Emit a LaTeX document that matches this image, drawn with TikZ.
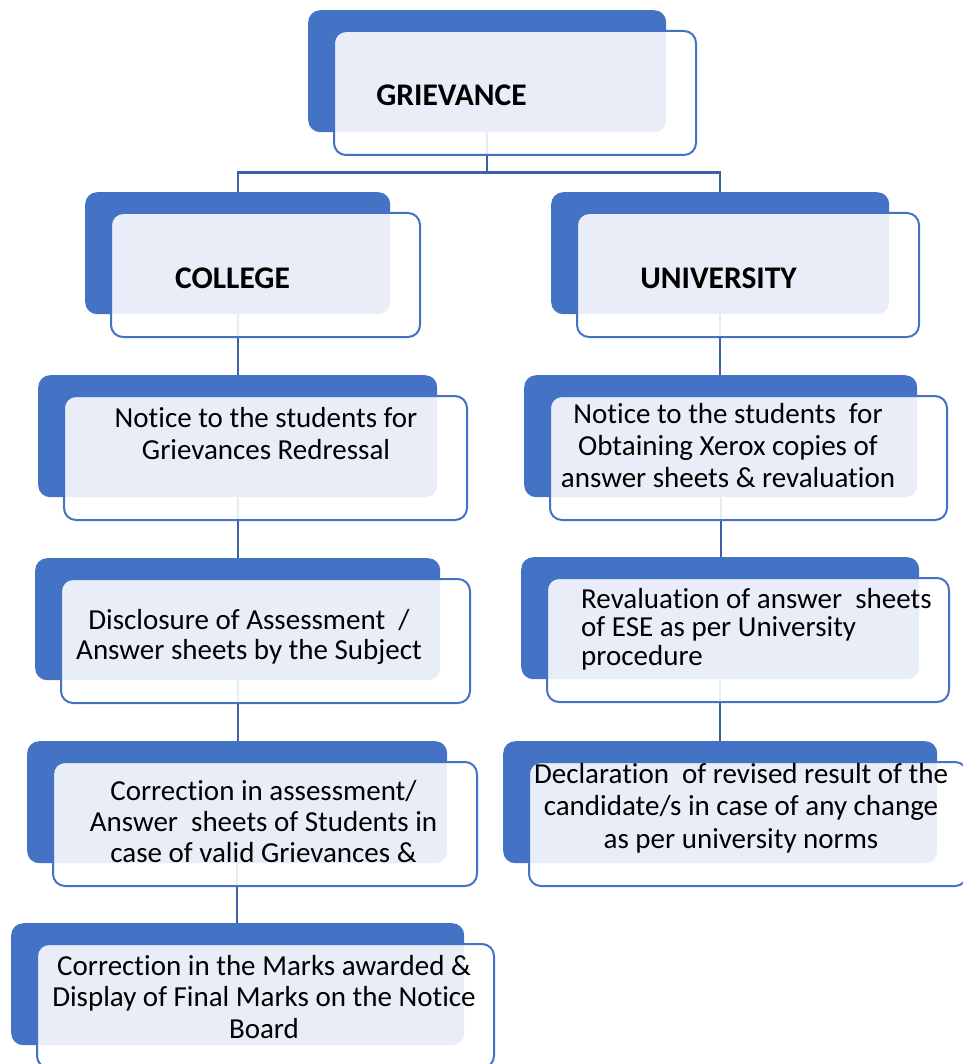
\documentclass[tikz,border=0pt]{standalone}
\usepackage{fontspec}
\setmainfont{Carlito}[Ligatures=NoCommon]
\usetikzlibrary{positioning}
\pgfdeclarelayer{background}
\pgfsetlayers{background,main}
\tikzstyle{chart} = [x = 1pt, y = -1pt]
\definecolor{boxBlue}{RGB}{68,114,196}
\definecolor{lineBlue}{RGB}{62,96,170}
\tikzstyle{backBoxStyle} = [fill=boxBlue, rounded corners = 12pt, minimum height = 122pt, anchor = north west, inner sep = 0pt]
\tikzstyle{frontBoxStyle} = [draw=boxBlue, line width = 2pt, fill=white, fill opacity=0.88, rounded corners = 12pt, minimum height = 124pt, anchor = north west, inner sep = 0pt]
\tikzstyle{linkLine} = [color=lineBlue, line width = 2.3pt]
\tikzstyle{stageText} = [font=\fontsize{29}{32}\selectfont, align=center, anchor=base, inner sep=0pt]
\tikzstyle{headText} = [font=\fontsize{31.5}{36}\selectfont\bfseries, anchor=base, inner sep=0pt]
\newcommand{\stageBox}[4]{
  \node [backBoxStyle, minimum width = #4pt] (#1Back) at (#2, #3) {};
  \node [frontBoxStyle, minimum width = #4pt + 4pt] (#1Front) at ([xshift = 25pt, yshift = -20pt] #1Back.north west) {};
}

\begin{document}
\begin{tikzpicture}[chart]
  \useasboundingbox (0,0) rectangle (962,1064);

  % boxes: name / left / top / width
  \foreach \name/\left/\top/\width in {griev/308/10/358, college/85/192/305, univ/551/192/338,
      noticeLeft/38/375/399, noticeRight/524/375/393, disclosure/35/558/405,
      revaluation/521/557/398, correction/27/741/420, declaration/503/741/434, final/11/923/453} {
    \stageBox{\name}{\left}{\top}{\width}
  }

  % connectors behind the boxes
  \begin{pgfonlayer}{background}
    \coordinate (bus) at ([yshift = -40pt] grievBack.south);
    \draw [linkLine] (grievBack.south) -- (bus);
    \draw [linkLine] (collegeBack.north) |- (bus) -| (univBack.north);
    \foreach \upper/\lower in {college/noticeLeft, noticeLeft/disclosure, disclosure/correction, correction/final,
        univ/noticeRight, noticeRight/revaluation, revaluation/declaration} {
      \draw [linkLine] (\upper Back.south) -- (\upper Back.south |- \lower Back.north);
    }
  \end{pgfonlayer}

  \node [headText] (grievText) at (451.5, 106) {GRIEVANCE};
  \node [headText] (collegeText) at (232.5, 288) {COLLEGE};
  \node [headText] (univText) at (718.5, 288) {UNIVERSITY};

  % base of a text node is the baseline of its last line
  \node [stageText] (noticeLeftText) at (266, 459) {Notice to the students for\\Grievances Redressal};
  \node [stageText] (noticeRightText) at (728, 487) {Notice to the students~ for\\Obtaining Xerox copies of\\answer sheets \& revaluation};
  \node [stageText, font=\fontsize{29}{30}\selectfont] (disclosureText) at (249, 659) {Disclosure of Assessment~ /\\Answer sheets by the Subject};
  \node [stageText, align=left, anchor=base west, font=\fontsize{29}{28.5}\selectfont] (revaluationText) at (581, 665) {Revaluation of answer~ sheets\\of ESE as per University\\procedure};
  \node [stageText, font=\fontsize{29}{31}\selectfont] (correctionText) at (263.5, 862) {Correction in assessment/\\Answer~ sheets of Students in\\case of valid Grievances \&};
  \node [stageText, font=\fontsize{29}{32.5}\selectfont] (declarationText) at (741, 848) {Declaration~ of revised result of the\\candidate/s in case of any change\\as per university norms};
  \node [stageText, font=\fontsize{29}{31.5}\selectfont] (finalText) at (264, 1038) {Correction in the Marks awarded \&\\Display of Final Marks on the Notice\\Board};
\end{tikzpicture}
\end{document}
